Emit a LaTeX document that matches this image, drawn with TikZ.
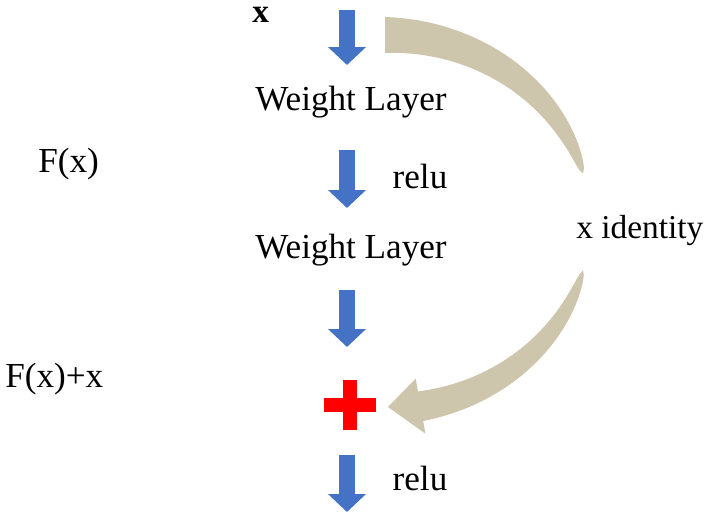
\documentclass[tikz,border=0pt]{standalone}
\usepackage{fontspec}
\setmainfont{Liberation Serif}
\usepackage{tikz}
\usetikzlibrary{arrows.meta,positioning,calc}
\definecolor{myblue}{RGB}{68,114,196}
\definecolor{mytan}{RGB}{205,197,172}
\definecolor{myred}{RGB}{255,0,0}

\begin{document}
\begin{tikzpicture}[
  x=0.02cm, y=-0.02cm,
  lbl/.style={
    font=\fontsize{20}{24}\selectfont,
    inner sep=0pt
    },
  xin/.style={
    font=\fontsize{19}{23}\selectfont\bfseries,
    inner sep=0pt
    },
  blockarrow/.style={
    draw=myblue,
    line width=0.34cm,
    -{Triangle[width=0.74cm,length=0.36cm,fill=myblue]}
    }
]
\useasboundingbox (0,0) rectangle (708,514);

% main path
\node[xin, anchor=base west] (input) at (252,22) {x};
\node[lbl, anchor=base] (layer1) at (351,110) {Weight Layer};
\node[lbl, anchor=base] (layer2) at (351,258) {Weight Layer};
\node (plus) at (350,405) {};
\fill[myred] ($(plus)+(-26,-7)$) rectangle ($(plus)+(26,7)$);
\fill[myred] ($(plus)+(-7,-25)$) rectangle ($(plus)+(7,25)$);

% block arrows
\foreach \name/\top/\tip in {arr1/10/65, arr2/150/208, arr3/290/347, arr4/455/512}
{
  \coordinate (\name s) at (347,\top);
  \coordinate (\name e) at (347,\tip);
  \draw[blockarrow] (\name s) -- (\name e);
}

% labels
\node[lbl, anchor=base] (relu1) at (420,188) {relu};
\node[lbl, anchor=base] (relu2) at (420,490) {relu};
\node[lbl, anchor=base west] (fx) at (38,172) {F(x)};
\node[lbl, anchor=base west] (fxx) at (5,387) {F(x)+x};
\node[lbl, font=\fontsize{19}{23}\selectfont, anchor=base west] (ident) at (576,238) {x identity};

% identity shortcut
\coordinate (arc) at (385,222);
\begin{scope}[shift={(arc)}]
\fill[mytan]
  plot[domain=90:15, samples=50] ({(205+18*sqrt((\x-15)/75))*cos(\x)}, {-(187+18*sqrt((\x-15)/75))*sin(\x)})
  -- plot[domain=15:90, samples=50] ({(205-18*sqrt((\x-15)/75))*cos(\x)}, {-(187-18*sqrt((\x-15)/75))*sin(\x)})
  -- cycle;
\fill[mytan]
  plot[domain=-15:-80, samples=50] ({(205+15*sqrt((-15-\x)/65))*cos(\x)}, {-(187+15*sqrt((-15-\x)/65))*sin(\x)})
  -- ({233*cos(-80)}, {-215*sin(-80)})
  -- (3,185)
  -- ({177*cos(-80)}, {-159*sin(-80)})
  -- plot[domain=-80:-15, samples=50] ({(205-15*sqrt((-15-\x)/65))*cos(\x)}, {-(187-15*sqrt((-15-\x)/65))*sin(\x)})
  -- cycle;
\end{scope}
\end{tikzpicture}
\end{document}
